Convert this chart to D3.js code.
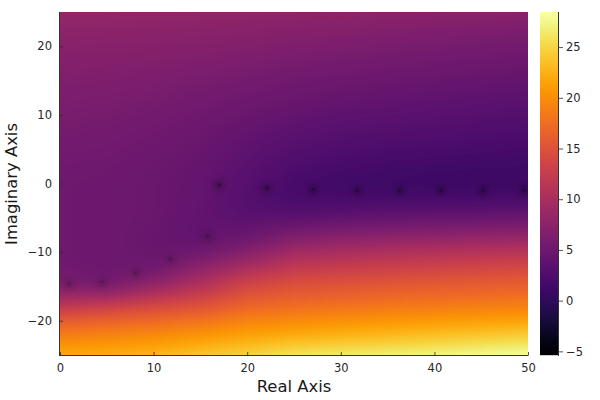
<!DOCTYPE html>
<html><head><meta charset="utf-8">
<script src="https://cdn.jsdelivr.net/npm/d3@7"></script>
<style>html,body{margin:0;padding:0;background:#fff}svg{display:block}text{font-family:"DejaVu Sans",sans-serif}</style>
</head><body><svg id="c" width="600" height="400"></svg>
<script>
const realTicks=[0,10,20,30,40,50];
const imagTicks=[-20,-10,0,10,20];
const barTicks=[-5,0,5,10,15,20,25];
const reColumns=[0,5,10,15,20,25,30,35,40,45,50];
const imRows=[25,22.5,20,17.5,15,12.5,10,7.5,5,2.5,0,-2.5,-5,-7.5,-10,-12.5,-15,-17.5,-20,-22.5,-25];
const magnitude=[
[8.2,8.2,8.1,8.0,7.9,7.8,7.7,7.6,7.5,7.4,7.2],
[7.7,7.6,7.5,7.4,7.2,7.0,6.9,6.7,6.5,6.4,6.2],
[7.2,7.1,7.0,6.9,6.7,6.4,6.2,6.0,5.8,5.6,5.5],
[6.8,6.7,6.6,6.4,6.1,5.8,5.6,5.4,5.2,5.0,4.8],
[6.5,6.4,6.2,5.9,5.6,5.2,5.0,4.7,4.5,4.3,4.1],
[6.2,6.1,5.9,5.5,5.1,4.7,4.3,4.1,3.9,3.7,3.5],
[6.0,5.8,5.5,5.1,4.6,4.1,3.7,3.5,3.3,3.1,2.9],
[5.7,5.5,5.2,4.8,4.1,3.5,3.1,2.9,2.7,2.5,2.3],
[5.4,5.3,5.0,4.5,3.7,2.9,2.5,2.2,2.1,1.9,1.7],
[5.2,5.1,4.8,4.3,3.4,2.4,1.9,1.6,1.4,1.3,1.2],
[5.1,5.0,4.7,4.2,3.1,1.9,1.3,1.0,0.9,0.8,0.8],
[5.1,5.0,4.7,4.1,2.9,1.9,1.9,2.0,2.0,2.1,2.2],
[5.1,5.0,4.7,4.1,3.4,3.4,3.8,4.1,4.3,4.4,4.6],
[5.1,5.0,4.5,3.8,4.6,6.1,6.8,7.1,7.4,7.6,7.8],
[5.1,5.0,4.5,5.0,6.8,9.3,10.0,10.5,10.8,11.1,11.3],
[5.2,4.9,5.1,7.8,10.4,12.4,12.8,13.2,13.6,13.9,14.2],
[6.0,5.6,8.2,11.0,14.0,15.0,15.4,15.8,16.1,16.3,16.5],
[11.0,12.0,13.4,14.4,16.3,17.0,17.4,17.8,18.1,18.3,18.5],
[16.0,16.7,17.2,18.0,19.2,19.8,20.2,20.6,20.9,21.2,21.5],
[19.4,19.7,20.2,21.0,21.9,22.5,23.0,23.4,23.9,24.4,24.9],
[21.9,22.2,22.8,23.8,24.7,26.0,26.5,26.9,27.3,27.8,28.2]];
const zeroRe=[0.96,4.49,8.09,11.83,15.78,17.0,22.1,27.06,31.76,36.3,40.7,45.2,49.6];
const zeroIm=[-14.65,-14.4,-13.0,-11.0,-7.7,-0.2,-0.66,-0.85,-1.0,-1.0,-1.0,-1.05,-1.0];
const zeroDepth=[0.45,0.45,0.5,0.5,0.55,0.85,0.85,0.8,0.8,0.8,0.8,0.8,0.8];
const valueDomain=[-5.36,28.46];

const L=60,R=528,T=12,B=355,BL=540,BR=558;
const x=d3.scaleLinear().domain([0,50]).range([L,R]);
const y=d3.scaleLinear().domain([-25,25]).range([B,T]);
const cb=d3.scaleLinear().domain(valueDomain).range([B,T]);
const color=d3.scaleSequential(d3.interpolateInferno).domain(valueDomain);
const svg=d3.select("#c");

const w=R-L,h=B-T;
const cv=document.createElement("canvas");cv.width=w;cv.height=h;
const ctx=cv.getContext("2d"),img=ctx.createImageData(w,h);
const colFn=reColumns.map((_,j)=>d3.interpolateBasis(magnitude.map(r=>r[j])));
const reIdx=d3.scaleLinear().domain(d3.extent(reColumns)).range([0,reColumns.length-1]);
const imT=d3.scaleLinear().domain(d3.extent(imRows).reverse()).range([0,1]);
for(let py=0;py<h;py++){
  const t=imT(y.invert(T+py+0.5));
  const col=colFn.map(f=>f(t));
  for(let px=0;px<w;px++){
    const u=reIdx(x.invert(L+px+0.5));
    const i=Math.min(Math.floor(u),col.length-2);
    const v=col[i]+(col[i+1]-col[i])*(u-i);
    const c=d3.rgb(color(v)),k=(py*w+px)*4;
    img.data[k]=c.r;img.data[k+1]=c.g;img.data[k+2]=c.b;img.data[k+3]=255;
  }
}
ctx.putImageData(img,0,0);
svg.append("image").attr("x",L).attr("y",T).attr("width",w).attr("height",h).attr("href",cv.toDataURL());

const defs=svg.append("defs");
const clip=defs.append("clipPath").attr("id","plot");
clip.append("rect").attr("x",L).attr("y",T).attr("width",w).attr("height",h);
const g=defs.append("radialGradient").attr("id","dip");
[[0,0.8],[0.06,0.5],[0.15,0.3],[0.35,0.15],[0.7,0.04],[1,0]].forEach(s=>g.append("stop").attr("offset",s[0]).attr("stop-color","#000").attr("stop-opacity",s[1]));
const zeros=zeroRe.map((r,i)=>({r,i:zeroIm[i],d:zeroDepth[i]}));
svg.append("g").attr("clip-path","url(#plot)").selectAll("ellipse").data(zeros).join("ellipse")
 .attr("cx",d=>x(d.r)).attr("cy",d=>y(d.i))
 .attr("rx",x(1.3)-x(0)).attr("ry",y(0)-y(1.7))
 .attr("fill","url(#dip)").attr("opacity",d=>d.d);

svg.append("g").selectAll("rect").data(d3.range(h)).join("rect")
 .attr("x",BL).attr("width",BR-BL).attr("y",d=>T+d).attr("height",1.2)
 .attr("fill",d=>color(cb.invert(T+d+0.5)));

const fmt=d=>String(d).replace("-","\u2212");
function style(a){
  a.selectAll("text").attr("font-size",11.5).attr("fill","#262626").attr("font-family","DejaVu Sans");
  a.select(".domain").remove();
  a.selectAll("line").attr("stroke","#2a2a2a").attr("stroke-opacity",0.8);
}
const ax=svg.append("g").attr("transform",`translate(0,${B})`).call(d3.axisBottom(x).tickValues(realTicks).tickFormat(fmt).tickSize(-3).tickPadding(9));
style(ax);
const ay=svg.append("g").attr("transform",`translate(${L},0)`).call(d3.axisLeft(y).tickValues(imagTicks).tickFormat(fmt).tickSize(-3).tickPadding(8));
style(ay);
const ac=svg.append("g").attr("transform",`translate(${BR},0)`).call(d3.axisRight(cb).tickValues(barTicks).tickFormat(fmt).tickSize(5).tickPadding(3));
style(ac);

svg.append("line").attr("x1",L-0.5).attr("x2",R+0.5).attr("y1",B+0.5).attr("y2",B+0.5).attr("stroke","#333");
svg.append("line").attr("x1",L-0.5).attr("x2",L-0.5).attr("y1",T).attr("y2",B+1).attr("stroke","#333");
svg.append("line").attr("x1",BR+0.5).attr("x2",BR+0.5).attr("y1",T).attr("y2",B+1).attr("stroke","#333");

svg.append("text").attr("x",294).attr("y",392).attr("text-anchor","middle").attr("font-size",16.4).attr("fill","#1a1a1a").text("Real Axis");
svg.append("text").attr("transform","translate(17,184) rotate(-90)").attr("text-anchor","middle").attr("font-size",16.4).attr("fill","#1a1a1a").text("Imaginary Axis");
</script></body></html>
